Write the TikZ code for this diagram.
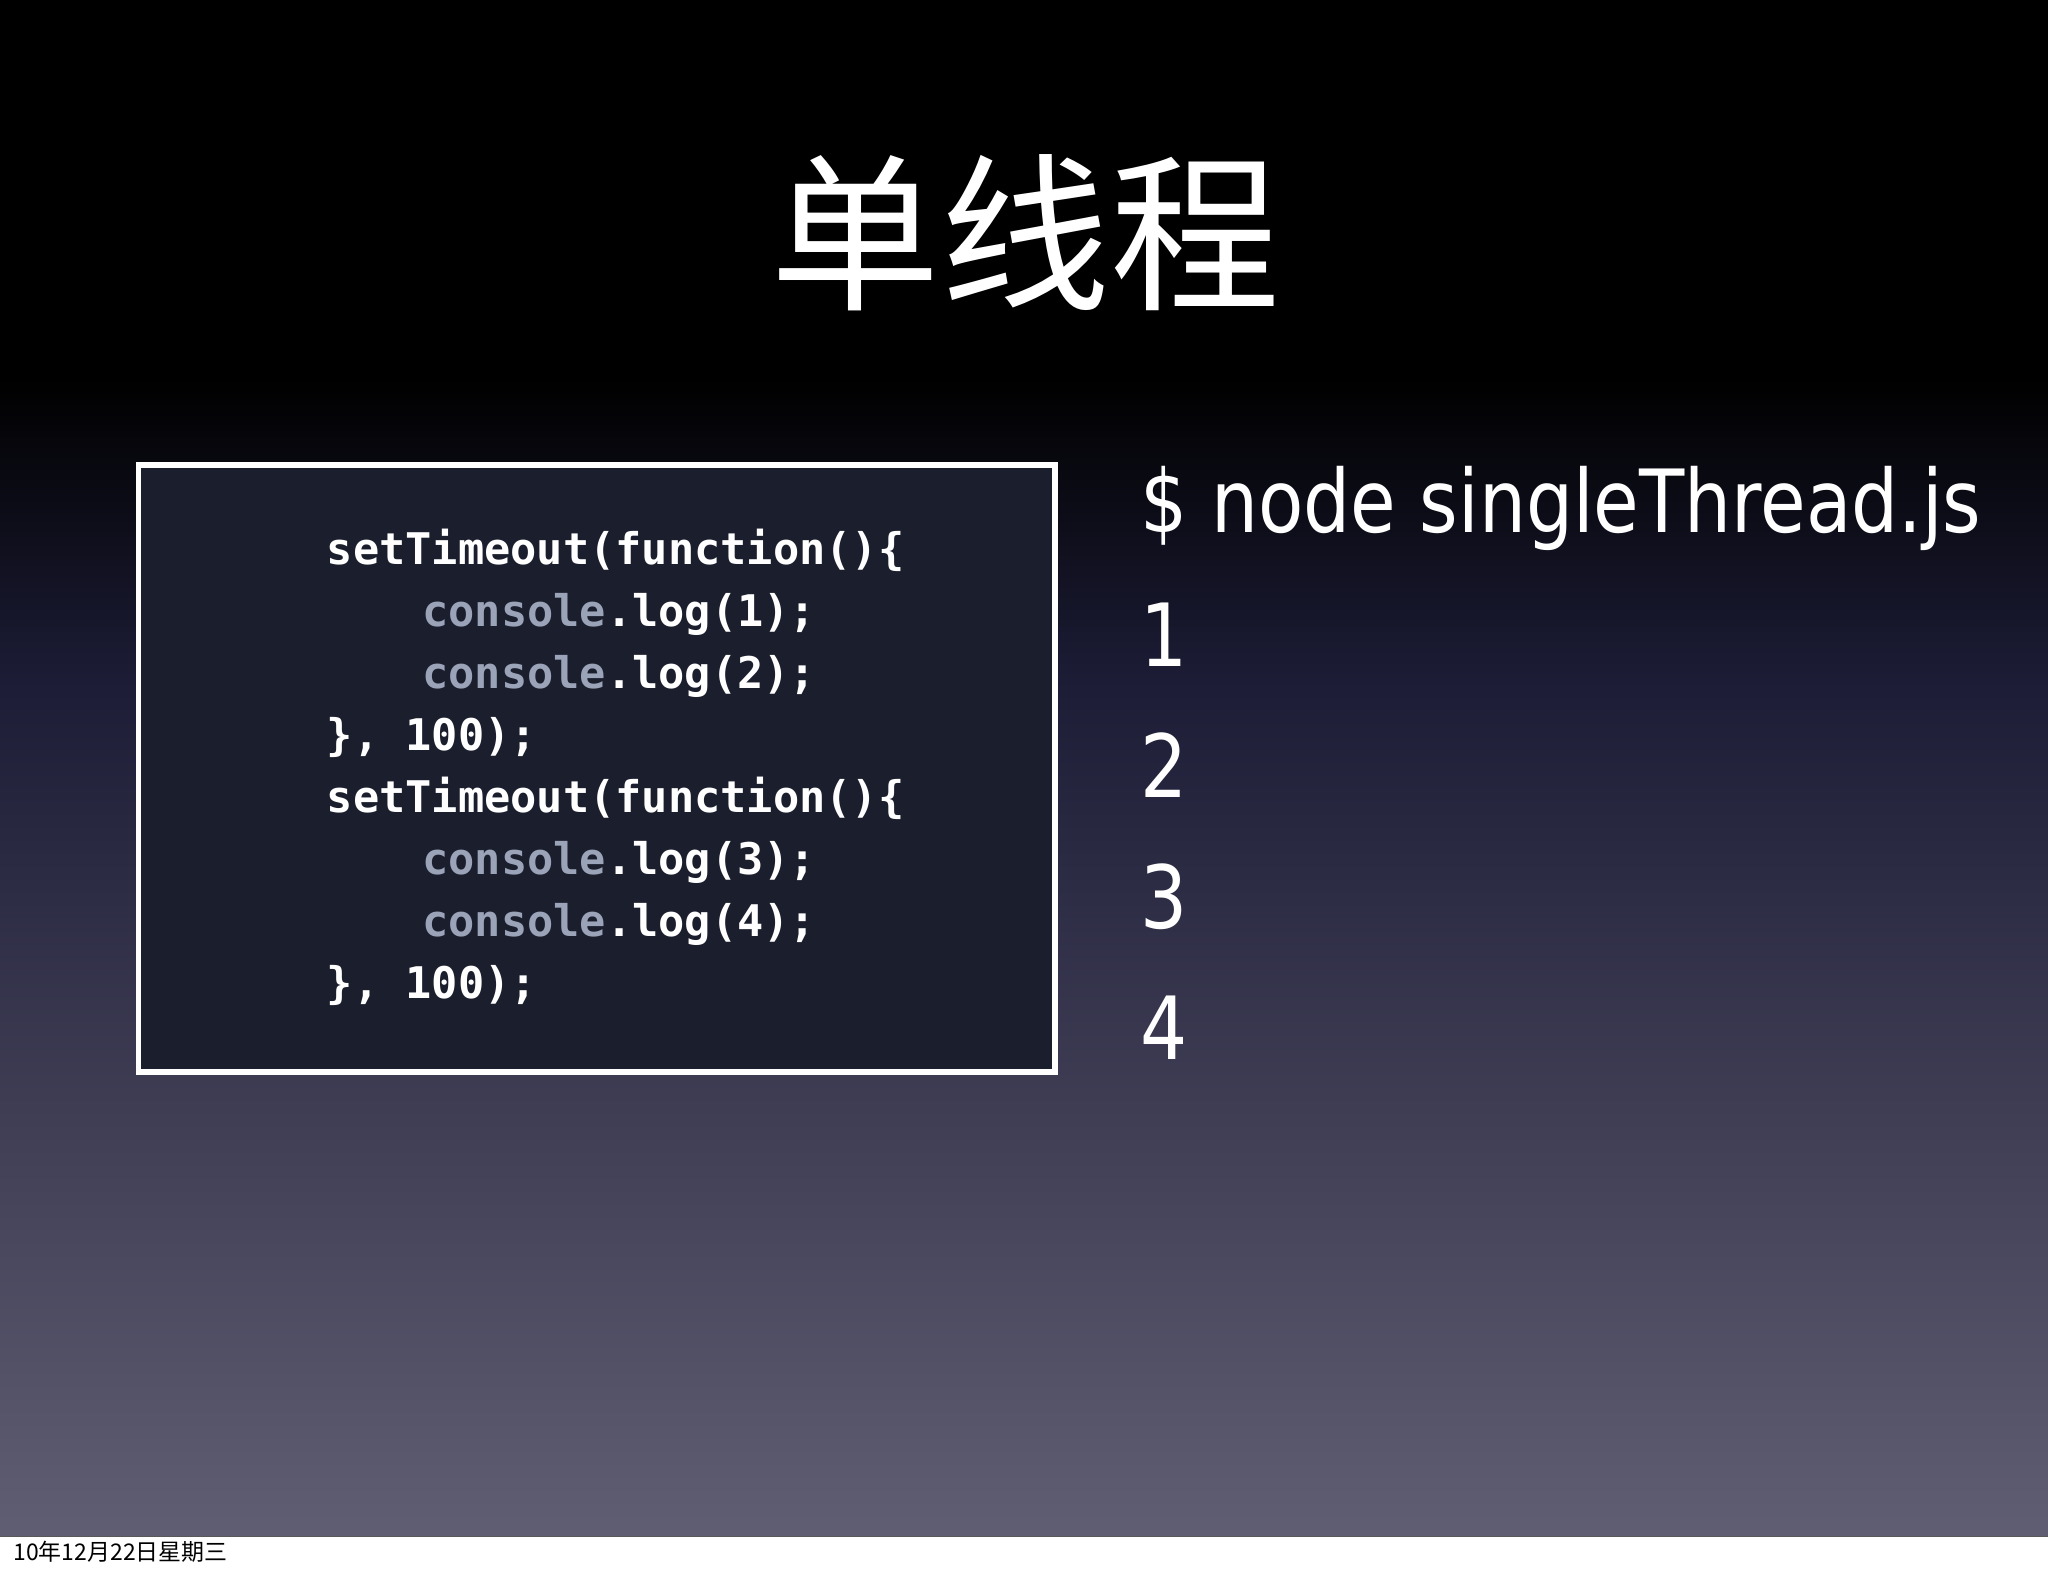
\documentclass[tikz,border=0pt]{standalone}
\usepackage{fontspec}
\setmainfont{DejaVu Sans}
\newfontfamily\cjk{Noto Sans CJK SC}
\newfontfamily\codefont{DejaVu Sans Mono}
\definecolor{bgbot}{HTML}{605E72}
\definecolor{bgmid}{HTML}{1C1C36}
\definecolor{codebg}{HTML}{1B1E2D}
\definecolor{consc}{HTML}{9AA3B8}
\tikzset{code/.style={anchor=base west,text=white,font=\codefont\bfseries\fontsize{19}{19}\selectfont,inner sep=0},
outtext/.style={anchor=base west,text=white,font=\fontsize{38}{38}\selectfont,inner sep=0,xscale=0.85,transform shape}}
\begin{document}
\begin{tikzpicture}[x=0.02cm,y=-0.02cm]
\useasboundingbox (0,0) rectangle (1568,1207);
\fill[white] (0,0) rectangle (1568,1207);
\fill[black] (0,0) rectangle (1568,290);
\shade[top color=black,bottom color=bgmid] (0,289) rectangle (1568,520);
\shade[top color=bgmid,bottom color=bgbot] (0,519) rectangle (1568,1176);
\draw[gray!70!black] (0,1176.5) -- (1568,1176.5);
\node[text=white,font=\cjk\fontsize{74}{74}\selectfont] (title) at (785,178) {单线程};
\draw[white,line width=2.5pt,fill=codebg] (106,356) rectangle (808,821);
\foreach \t [count=\i] in {{setTimeout(function()\{},{\hspace*{4ex}\textcolor{consc}{console}.log(1);},{\hspace*{4ex}\textcolor{consc}{console}.log(2);},{\}, 100);},{setTimeout(function()\{},{\hspace*{4ex}\textcolor{consc}{console}.log(3);},{\hspace*{4ex}\textcolor{consc}{console}.log(4);},{\}, 100);}}
  \node[code] (c\i) at (250,{432+47.5*(\i-1)}) {\t};
\node[outtext] (cmd) at (873,408) {\$ node singleThread.js};
\foreach \n [count=\i] in {1,2,3,4}
  \node[outtext] (o\i) at (873,{510+100.5*(\i-1)}) {\n};
\node[anchor=base west,inner sep=0,font=\cjk\fontsize{10}{10}\selectfont] (foot) at (10,1195) {10年12月22日星期三};
\end{tikzpicture}
\end{document}
